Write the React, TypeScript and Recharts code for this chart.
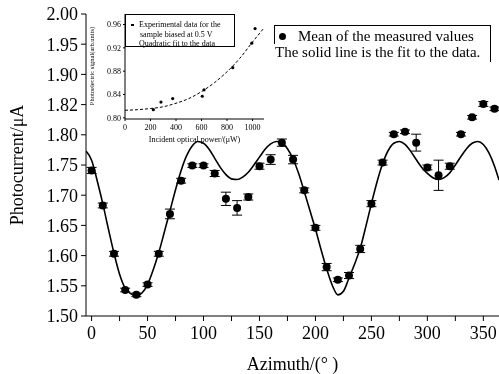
import { ComposedChart, Line, Scatter, XAxis, YAxis, ErrorBar } from "recharts";

// measured means, every 10 degrees
const azimuth = [0, 10, 20, 30, 40, 50, 60, 70, 80, 90, 100, 110, 120, 130, 140, 150, 160, 170, 180, 190, 200, 210, 220, 230, 240, 250, 260, 270, 280, 290, 300, 310, 320, 330, 340, 350, 360];
const meanCurrent = [1.741, 1.683, 1.603, 1.543, 1.535, 1.552, 1.603, 1.669, 1.724, 1.749, 1.749, 1.736, 1.694, 1.679, 1.697, 1.748, 1.759, 1.787, 1.759, 1.708, 1.646, 1.581, 1.56, 1.567, 1.611, 1.686, 1.754, 1.801, 1.805, 1.787, 1.746, 1.733, 1.748, 1.801, 1.829, 1.851, 1.843];
const currentError = [0.005, 0.004, 0.004, 0.003, 0.003, 0.003, 0.004, 0.008, 0.004, 0.003, 0.003, 0.005, 0.011, 0.012, 0.005, 0.005, 0.008, 0.006, 0.007, 0.004, 0.004, 0.006, 0.003, 0.005, 0.006, 0.005, 0.004, 0.003, 0.003, 0.014, 0.004, 0.025, 0.005, 0.003, 0.003, 0.004, 0.003];

// fitted curve
const fitAzimuth = [-5, 0, 5, 10, 15, 20, 25, 30, 35, 40, 45, 50, 55, 60, 65, 70, 75, 80, 85, 90, 95, 100, 105, 110, 115, 120, 125, 130, 135, 140, 145, 150, 155, 160, 165, 170, 175, 180, 185, 190, 195, 200, 205, 210, 215, 220, 225, 230, 235, 240, 245, 250, 255, 260, 265, 270, 275, 280, 285, 290, 295, 300, 305, 310, 315, 320, 325, 330, 335, 340, 345, 350, 355, 360, 364];
const fitCurrent = [1.773, 1.758, 1.724, 1.686, 1.644, 1.604, 1.569, 1.546, 1.537, 1.533, 1.538, 1.552, 1.576, 1.605, 1.639, 1.674, 1.709, 1.741, 1.766, 1.782, 1.789, 1.786, 1.776, 1.761, 1.746, 1.734, 1.727, 1.726, 1.73, 1.738, 1.75, 1.763, 1.776, 1.785, 1.789, 1.787, 1.777, 1.76, 1.736, 1.706, 1.675, 1.644, 1.61, 1.578, 1.551, 1.535, 1.541, 1.563, 1.586, 1.612, 1.648, 1.686, 1.722, 1.752, 1.774, 1.786, 1.789, 1.784, 1.773, 1.759, 1.746, 1.736, 1.729, 1.726, 1.729, 1.737, 1.75, 1.764, 1.777, 1.786, 1.789, 1.784, 1.77, 1.748, 1.725];

const xTicks = [0, 25, 50, 75, 100, 125, 150, 175, 200, 225, 250, 275, 300, 325, 350];
const yTicks = [1.5, 1.525, 1.55, 1.575, 1.6, 1.625, 1.65, 1.675, 1.7, 1.725, 1.75, 1.775, 1.8, 1.825, 1.85, 1.875, 1.9, 1.925, 1.95, 1.975, 2.0];
const yMajor = [1.5, 1.55, 1.6, 1.65, 1.7, 1.75, 1.8, 1.85, 1.9, 1.95, 2.0];
const yLabels = ["1.50", "1.55", "1.60", "1.65", "1.70", "1.75", "1.80", "1.82", "1.90", "1.95", "2.00"];

// inset: signal vs optical power
const power = [222, 282, 374, 606, 620, 845, 994, 1020];
const signal = [0.814, 0.827, 0.833, 0.837, 0.848, 0.886, 0.928, 0.953];
const fitPower = [0, 100, 200, 300, 400, 500, 600, 700, 800, 900, 1000, 1090];
const fitSignal = [0.813, 0.814, 0.816, 0.819, 0.825, 0.833, 0.845, 0.86, 0.879, 0.902, 0.93, 0.954];
const insetXTicks = [0, 200, 400, 600, 800, 1000];
const insetYTicks = [0.8, 0.82, 0.84, 0.86, 0.88, 0.9, 0.92, 0.94, 0.96];

const serif = "'Liberation Serif', 'Times New Roman', serif";

const points = azimuth.map((x, i) => ({ x, y: meanCurrent[i], err: currentError[i] }));
const fit = fitAzimuth.map((x, i) => ({ x, y: fitCurrent[i] }));
const insetPoints = power.map((x, i) => ({ x, y: signal[i] }));
const insetFit = fitPower.map((x, i) => ({ x, y: fitSignal[i] }));

const fmtY = (v: number) => {
  const i = yMajor.findIndex((m) => Math.abs(m - v) < 1e-6);
  return i >= 0 ? yLabels[i] : "";
};

const Dot = (r: number) => (props: any) =>
  <circle cx={props.cx} cy={props.cy} r={r} fill="#000" />;

export default function App() {
  const tickStyle = { fontFamily: serif, fontSize: 18, fill: "#000" };
  const smallTick = { fontFamily: serif, fontSize: 8, fill: "#000" };
  return (
    <div style={{ position: "absolute", left: 0, top: 0, width: 499, height: 374, background: "#fff", fontFamily: serif, color: "#000", willChange: "transform" }}>
      <ComposedChart width={499} height={374} margin={{ top: 14, right: 0, left: 0, bottom: 0 }}>
        <XAxis
          type="number"
          dataKey="x"
          domain={[-5, 364]}
          ticks={xTicks}
          tickFormatter={(v: number) => (v % 50 === 0 ? String(v) : "")}
          allowDataOverflow
          height={58}
          tickSize={5}
          tickMargin={5}
          stroke="#000"
          tick={tickStyle}
          label={{ value: "Azimuth/(° )", position: "insideBottom", offset: 4, style: { fontFamily: serif, fontSize: 18, fill: "#000" } }}
        />
        <XAxis xAxisId="top" orientation="top" type="number" domain={[-5, 364]} height={0} tick={false} tickLine={false} stroke="#000" />
        <YAxis
          type="number"
          dataKey="y"
          domain={[1.5, 2.0]}
          ticks={yTicks}
          tickFormatter={fmtY}
          allowDataOverflow
          width={86}
          tickSize={5}
          tickMargin={3}
          stroke="#000"
          tick={tickStyle}
          label={{ value: "Photocurrent/μA", angle: -90, position: "insideLeft", offset: 17, style: { fontFamily: serif, fontSize: 18, fill: "#000", textAnchor: "middle" } }}
        />
        <Line data={fit} dataKey="y" type="monotone" stroke="#000" strokeWidth={1.6} dot={false} isAnimationActive={false} />
        <Scatter data={points} dataKey="y" shape={Dot(4)} isAnimationActive={false}>
          <ErrorBar dataKey="err" direction="y" width={5} stroke="#000" strokeWidth={1} />
        </Scatter>
      </ComposedChart>

      <div style={{ position: "absolute", left: 84, top: 0 }}>
        <ComposedChart width={182} height={145} margin={{ top: 14, right: 2, left: 0, bottom: 0 }}>
          <XAxis
            type="number"
            dataKey="x"
            domain={[0, 1090]}
            ticks={insetXTicks}
            allowDataOverflow
            height={26}
            tickSize={2}
            tickMargin={3}
            stroke="#000"
            tick={smallTick}
            label={{ value: "Incident optical power/(μW)", position: "insideBottom", offset: 3, style: { fontFamily: serif, fontSize: 8, fill: "#000" } }}
          />
          <XAxis xAxisId="top" orientation="top" type="number" domain={[0, 1090]} height={0} tick={false} tickLine={false} stroke="#000" />
          <YAxis
            type="number"
            dataKey="y"
            domain={[0.798, 0.978]}
            ticks={insetYTicks}
            tickFormatter={(v: number) => v.toFixed(2)}
            allowDataOverflow
            width={41}
            tickSize={2}
            tickMargin={2}
            stroke="#000"
            tick={smallTick}
          />
          <YAxis yAxisId="right" orientation="right" type="number" domain={[0.798, 0.978]} width={0} tick={false} tickLine={false} stroke="#000" />
          <Line data={insetFit} dataKey="y" type="monotone" stroke="#000" strokeWidth={1} strokeDasharray="3 2" dot={false} isAnimationActive={false} />
          <Scatter data={insetPoints} dataKey="y" shape={Dot(1.6)} isAnimationActive={false} />
        </ComposedChart>
      </div>

      <div style={{ position: "absolute", left: 91, top: 66, width: 0, height: 0 }}>
        <div style={{ position: "absolute", left: 0, top: 0, transform: "translate(-50%, -50%) rotate(-90deg)", whiteSpace: "nowrap", fontSize: 6.5, lineHeight: "7px" }}>
          Photoelectric signal(arb.units)
        </div>
      </div>

      <div style={{ position: "absolute", left: 125, top: 14, width: 110, height: 33, boxSizing: "border-box", border: "1px solid #000", background: "#fff", fontSize: 8, lineHeight: "9.5px", paddingTop: 5 }}>
        <div style={{ position: "relative", paddingLeft: 13 }}>
          <span style={{ position: "absolute", left: 5, top: 4, width: 3, height: 2, background: "#000" }} />
          Experimental data for the
        </div>
        <div style={{ paddingLeft: 14 }}>sample biased at 0.5 V</div>
        <div style={{ paddingLeft: 13 }}>Quadratic fit to the data</div>
      </div>

      <div style={{ position: "absolute", left: 274, top: 25, width: 217, height: 37, boxSizing: "border-box", borderTop: "1px solid #000", borderRight: "1px solid #000", fontSize: 15, lineHeight: "15.5px" }}>
        <div style={{ position: "absolute", left: 0, top: 0, width: 1, height: 18, background: "#000" }} />
        <div style={{ position: "relative", paddingLeft: 24, marginTop: 3 }}>
          <span style={{ position: "absolute", left: 5, top: 4, width: 7, height: 7, borderRadius: "50%", background: "#000" }} />
          Mean of the measured values
        </div>
        <div style={{ paddingLeft: 1 }}>The solid line is the fit to the data.</div>
      </div>
    </div>
  );
}
